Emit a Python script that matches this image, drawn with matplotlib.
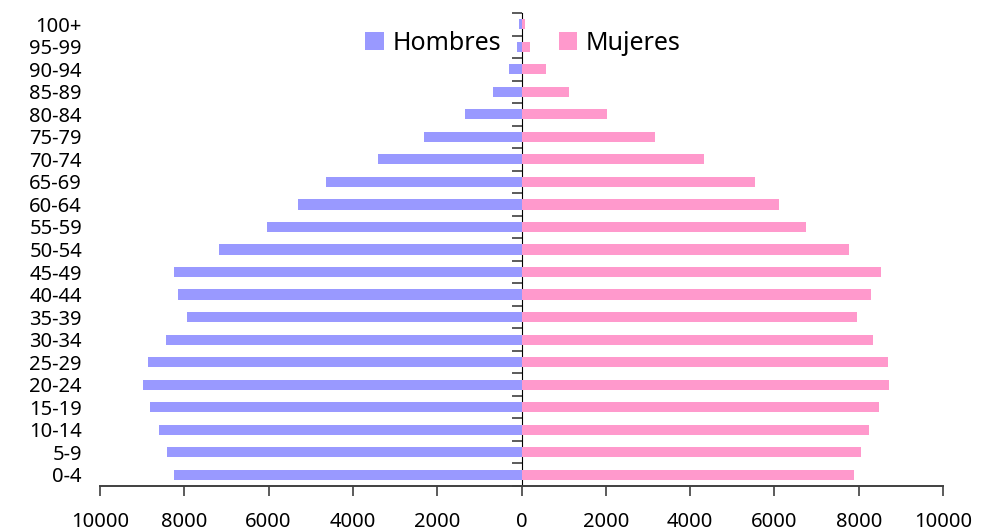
import numpy as np
import matplotlib
matplotlib.use("Agg")
import matplotlib.pyplot as plt
from matplotlib.ticker import FuncFormatter

# -----------------------------
# Data
# -----------------------------
age_groups = ["0-4", "5-9", "10-14", "15-19", "20-24", "25-29", "30-34",
              "35-39", "40-44", "45-49", "50-54", "55-59", "60-64", "65-69",
              "70-74", "75-79", "80-84", "85-89", "90-94", "95-99", "100+"]
hombres = [8240, 8400, 8600, 8810, 8990, 8870, 8430, 7930, 8150, 8240, 7170,
           6030, 5300, 4640, 3410, 2320, 1345, 685, 305, 110, 50]
mujeres = [7900, 8060, 8250, 8490, 8730, 8700, 8350, 7970, 8300, 8540, 7760,
           6760, 6100, 5550, 4320, 3160, 2020, 1120, 575, 200, 80]
x_ticks = [-10000, -8000, -6000, -4000, -2000, 0, 2000, 4000, 6000, 8000, 10000]

color_h = "#9999FF"
color_m = "#FF99CC"
axis_color = "#404040"

plt.rcParams["font.family"] = ["Noto Sans", "DejaVu Sans"]

fig = plt.figure(figsize=(9.93, 5.31), dpi=100)
ax = fig.add_axes([100 / 993, 1 - 486 / 531, 843 / 993, 473 / 531])

y = np.arange(len(age_groups))
ax.barh(y, -np.array(hombres), height=0.45, color=color_h, label="Hombres")
ax.barh(y, mujeres, height=0.45, color=color_m, label="Mujeres")

ax.set_xlim(-10000, 10000)
ax.set_ylim(-0.5, len(age_groups) - 0.5)

# x axis: absolute values
ax.set_xticks(x_ticks)
ax.xaxis.set_major_formatter(FuncFormatter(lambda v, p: f"{abs(int(v))}"))
ax.tick_params(axis="x", direction="out", length=7, width=1.2,
               color=axis_color, labelsize=14.5, pad=12)

# y labels at the left edge, no tick marks there
ax.set_yticks(y)
ax.set_yticklabels(age_groups)
ax.tick_params(axis="y", length=0, labelsize=14.5, pad=13)

for s in ["top", "right", "left"]:
    ax.spines[s].set_visible(False)
ax.spines["bottom"].set_color(axis_color)
ax.spines["bottom"].set_linewidth(1.4)

# central vertical axis with ticks between categories (pointing left)
sec = ax.secondary_yaxis(0.5)
sec.set_yticks(np.arange(len(age_groups) + 1) - 0.5)
sec.set_yticklabels([])
sec.tick_params(axis="y", direction="in", length=7, width=1.2, color=axis_color)
sec.spines["left"].set_color(axis_color)
sec.spines["left"].set_linewidth(1.4)

fig.legend(loc="center", bbox_to_anchor=(523 / 993, 1 - 43 / 531), ncol=2,
           frameon=False, fontsize=18, handlelength=0.75, handleheight=0.75,
           handletextpad=0.35, columnspacing=2.3, borderpad=0)

fig.savefig("out.png", dpi=100)
